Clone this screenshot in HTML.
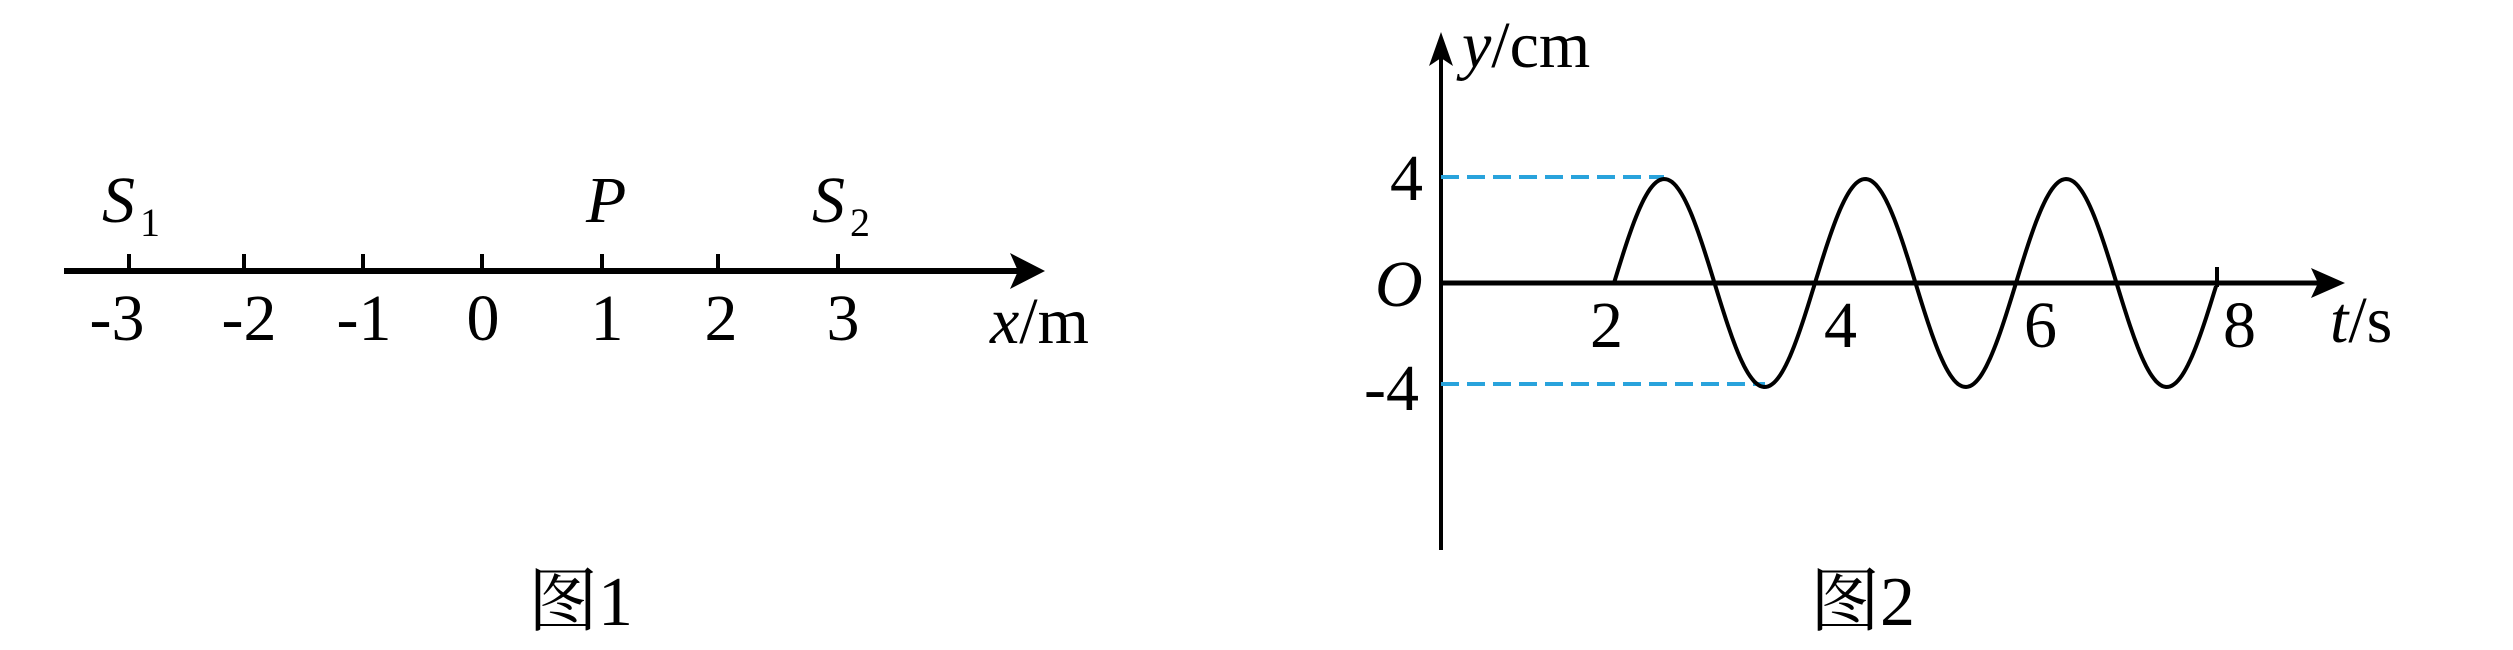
<!DOCTYPE html>
<html><head><style>body{margin:0;background:#fff}svg{display:block}text{font-family:"Liberation Serif","Noto Serif CJK SC",serif;fill:#000}</style></head>
<body>
<svg width="2513" height="650" viewBox="0 0 2513 650" xmlns="http://www.w3.org/2000/svg">
<!-- Figure 1 -->
<line x1="64" y1="271" x2="1020" y2="271" stroke="#000" stroke-width="6"/>
<polygon points="1045,271 1010,253 1018,271 1010,289" fill="#000"/>
<g stroke="#000" stroke-width="4">
<line x1="129" y1="254" x2="129" y2="271"/><line x1="244" y1="254" x2="244" y2="271"/>
<line x1="363" y1="254" x2="363" y2="271"/><line x1="482" y1="254" x2="482" y2="271"/>
<line x1="602" y1="254" x2="602" y2="271"/><line x1="718" y1="254" x2="718" y2="271"/>
<line x1="838" y1="254" x2="838" y2="271"/>
</g>
<g font-size="66" text-anchor="middle">
<text x="117" y="340">-3</text><text x="249" y="340">-2</text><text x="364" y="340">-1</text>
<text x="483" y="340">0</text><text x="607" y="340">1</text><text x="721" y="340">2</text><text x="843" y="340">3</text>
</g>
<text x="102" y="222" font-size="66" font-style="italic">S</text><text x="140" y="236" font-size="40">1</text>
<text x="586" y="222" font-size="66" font-style="italic">P</text>
<text x="812" y="222" font-size="66" font-style="italic">S</text><text x="850" y="236" font-size="40">2</text>
<text x="990" y="343" font-size="66"><tspan font-style="italic">x</tspan>/m</text>
<text x="528" y="625" font-size="70">图1</text>
<!-- Figure 2 -->
<line x1="1441" y1="48" x2="1441" y2="550" stroke="#000" stroke-width="4"/>
<polygon points="1441,32 1429,66 1441,58 1453,66" fill="#000"/>
<line x1="1441" y1="283" x2="2325" y2="283" stroke="#000" stroke-width="5"/>
<polygon points="2345,283 2311,268 2318,283 2311,298" fill="#000"/>
<line x1="1441" y1="177" x2="1664" y2="177" stroke="#29a3dc" stroke-width="4" stroke-dasharray="18,8"/>
<line x1="1441" y1="384" x2="1765" y2="384" stroke="#29a3dc" stroke-width="4" stroke-dasharray="18,8"/>
<path id="w" fill="none" stroke="#000" stroke-width="4" d=""/>
<line x1="2217" y1="267" x2="2217" y2="287" stroke="#000" stroke-width="4"/>
<g font-size="66">
<text x="1390" y="200">4</text><text x="1364" y="410">-4</text>
<text x="1375" y="306" font-style="italic">O</text>
<text x="1590" y="347">2</text><text x="1824" y="347">4</text><text x="2024" y="347">6</text><text x="2223" y="347">8</text>
<text x="2330" y="342"><tspan font-style="italic">t</tspan>/s</text>
<text x="1462" y="67"><tspan font-style="italic">y</tspan>/cm</text>
</g>
<text x="1810" y="625" font-size="70">图2</text>
<script>
var d="";for(var x=1614;x<=2217;x+=2){var y=283-104*Math.sin(2*Math.PI*(x-1614)/201);d+=(x==1614?"M":"L")+x+","+y.toFixed(1)+" ";}
document.getElementById("w").setAttribute("d",d);
</script>
</svg>
</body></html>
